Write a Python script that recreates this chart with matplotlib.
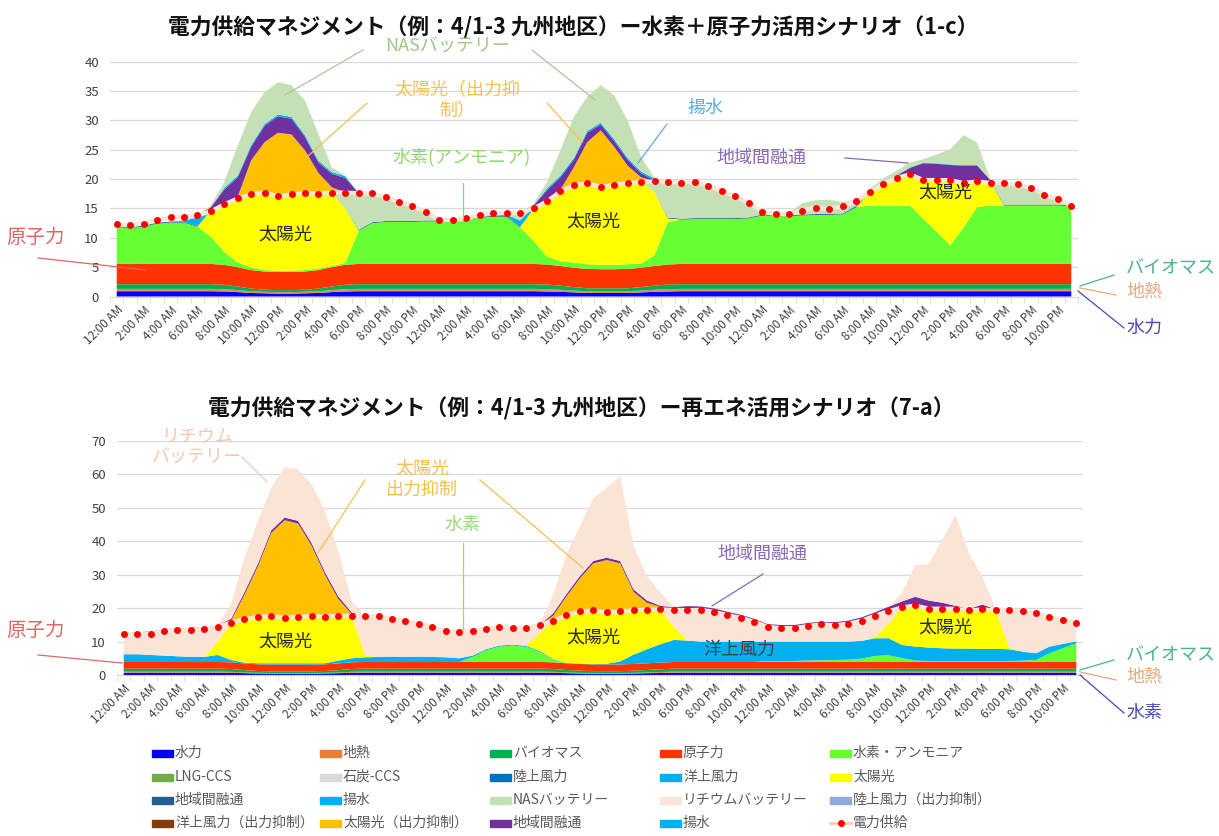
import numpy as np
import matplotlib
matplotlib.use("Agg")
import matplotlib.pyplot as plt
from matplotlib.lines import Line2D
from matplotlib.patches import Rectangle

plt.rcParams['font.family'] = ['Noto Sans CJK JP', 'DejaVu Sans']

W, H = 1219, 836

# ---------------------------------------------------------------- data
hour_labels = ["12:00 AM", "2:00 AM", "4:00 AM", "6:00 AM", "8:00 AM", "10:00 AM",
               "12:00 PM", "2:00 PM", "4:00 PM", "6:00 PM", "8:00 PM", "10:00 PM"]
tick_labels = hour_labels + hour_labels + hour_labels

# hourly power demand (GW), 4/1 00:00 - 4/3 23:00
supply = [
    12.3, 12.2, 12.4, 13.1, 13.5, 13.6, 13.8, 14.5, 15.7, 16.7, 17.4, 17.7,
    17.1, 17.4, 17.6, 17.5, 17.7, 17.7, 17.6, 17.55, 16.9, 16.15, 15.4, 14.35,
    13.1, 13.0, 13.3, 13.9, 14.3, 14.2, 14.2, 15.0, 16.2, 17.9, 19.0, 19.3,
    18.7, 19.0, 19.4, 19.5, 19.6, 19.5, 19.4, 19.5, 18.9, 17.9, 17.1, 15.9,
    14.4, 14.05, 14.05, 14.65, 15.15, 14.9, 15.35, 16.25, 17.75, 19.1, 20.2, 20.8,
    19.85, 19.85, 19.8, 19.35, 19.6, 19.35, 19.3, 19.1, 18.5, 17.35, 16.55, 15.5,
]

# ---- scenario 1-c (hydrogen + nuclear)
hydro_c = [
    0.9, 0.9, 0.9, 0.9, 0.9, 0.9, 0.9, 0.9, 0.85, 0.75, 0.6, 0.55,
    0.5, 0.5, 0.55, 0.6, 0.75, 0.85, 0.9, 0.9, 0.9, 0.9, 0.9, 0.9,
    0.9, 0.9, 0.9, 0.9, 0.9, 0.9, 0.9, 0.9, 0.85, 0.8, 0.7, 0.6,
    0.6, 0.6, 0.6, 0.7, 0.8, 0.85, 0.9, 0.9, 0.9, 0.9, 0.9, 0.9,
    0.9, 0.9, 0.9, 0.9, 0.9, 0.9, 0.9, 0.9, 0.9, 0.9, 0.9, 0.9,
    0.9, 0.9, 0.9, 0.9, 0.9, 0.9, 0.9, 0.9, 0.9, 0.9, 0.9, 0.9,
]
geo_c = [
    0.4, 0.4, 0.4, 0.4, 0.4, 0.4, 0.4, 0.4, 0.4, 0.35, 0.3, 0.25,
    0.25, 0.25, 0.25, 0.3, 0.35, 0.4, 0.4, 0.4, 0.4, 0.4, 0.4, 0.4,
    0.4, 0.4, 0.4, 0.4, 0.4, 0.4, 0.4, 0.4, 0.4, 0.35, 0.3, 0.3,
    0.3, 0.3, 0.3, 0.3, 0.35, 0.4, 0.4, 0.4, 0.4, 0.4, 0.4, 0.4,
    0.4, 0.4, 0.4, 0.4, 0.4, 0.4, 0.4, 0.4, 0.4, 0.4, 0.4, 0.4,
    0.4, 0.4, 0.4, 0.4, 0.4, 0.4, 0.4, 0.4, 0.4, 0.4, 0.4, 0.4,
]
bio_c = [
    0.8, 0.8, 0.8, 0.8, 0.8, 0.8, 0.8, 0.8, 0.75, 0.6, 0.45, 0.35,
    0.35, 0.35, 0.35, 0.45, 0.6, 0.75, 0.8, 0.8, 0.8, 0.8, 0.8, 0.8,
    0.8, 0.8, 0.8, 0.8, 0.8, 0.8, 0.8, 0.8, 0.8, 0.7, 0.6, 0.5,
    0.5, 0.5, 0.5, 0.6, 0.7, 0.8, 0.8, 0.8, 0.8, 0.8, 0.8, 0.8,
    0.8, 0.8, 0.8, 0.8, 0.8, 0.8, 0.8, 0.8, 0.8, 0.8, 0.8, 0.8,
    0.8, 0.8, 0.8, 0.8, 0.8, 0.8, 0.8, 0.8, 0.8, 0.8, 0.8, 0.8,
]
nuc_c = [
    3.45, 3.45, 3.45, 3.45, 3.45, 3.45, 3.45, 3.45, 3.4, 3.3, 3.15, 3.1,
    3.1, 3.1, 3.1, 3.15, 3.3, 3.4, 3.45, 3.45, 3.45, 3.45, 3.45, 3.45,
    3.45, 3.45, 3.45, 3.45, 3.45, 3.45, 3.45, 3.45, 3.4, 3.35, 3.3, 3.3,
    3.25, 3.25, 3.3, 3.3, 3.35, 3.4, 3.45, 3.45, 3.45, 3.45, 3.45, 3.45,
    3.45, 3.45, 3.45, 3.45, 3.45, 3.45, 3.45, 3.45, 3.45, 3.45, 3.45, 3.45,
    3.45, 3.45, 3.45, 3.45, 3.45, 3.45, 3.45, 3.45, 3.45, 3.45, 3.45, 3.45,
]
h2_c = [
    6.25, 6.15, 6.35, 6.85, 7.05, 7.05, 6.35, 4.65, 2.2, 0.8, 0.4, 0.25,
    0.2, 0.2, 0.25, 0.25, 0.2, 0.3, 5.65, 6.95, 7.15, 7.15, 7.15, 7.25,
    7.25, 7.25, 7.55, 7.85, 8.05, 8.05, 6.25, 3.95, 1.35, 0.8, 0.9, 0.8,
    0.75, 0.75, 0.8, 0.7, 1.8, 7.25, 7.55, 7.65, 7.65, 7.65, 7.65, 7.75,
    8.25, 8.15, 8.15, 8.25, 8.35, 8.35, 8.45, 9.65, 9.95, 9.95, 9.95, 9.95,
    7.65, 5.45, 3.15, 6.25, 9.65, 9.95, 9.95, 9.95, 9.95, 9.95, 9.95, 9.85,
]
solar_c = [
    0, 0, 0, 0, 0, 0, 0, 4.4, 8.1, 11.0, 12.6, 13.3,
    12.7, 13.1, 13.2, 12.8, 12.5, 9.3, 0, 0, 0, 0, 0, 0,
    0, 0, 0, 0, 0, 0, 0, 5.4, 9.5, 11.9, 13.1, 13.8,
    13.4, 13.6, 14.0, 14.0, 10.8, 0.6, 0, 0, 0, 0, 0, 0,
    0, 0, 0, 0, 0, 0, 0, 0, 2.3, 3.7, 4.7, 5.3,
    6.7, 8.9, 11.1, 7.7, 4.5, 4.0, 0, 0, 0, 0, 0, 0,
]
link_c = [
    0.15, 0.15, 0.15, 0.15, 0.15, 0.15, 0.15, 0, 0, 0, 0, 0,
    0, 0, 0, 0, 0, 0, 0.15, 0.15, 0.15, 0.15, 0.15, 0.15,
    0.15, 0.15, 0.15, 0.15, 0.15, 0.15, 0.15, 0, 0, 0, 0, 0,
    0, 0, 0, 0, 0, 0.15, 0.15, 0.15, 0.15, 0.15, 0.15, 0.15,
    0.15, 0.15, 0.15, 0.15, 0.15, 0.15, 0.15, 0.15, 0.1, 0.1, 0.1, 0.1,
    0.1, 0.1, 0.1, 0.1, 0.1, 0.1, 0.15, 0.15, 0.15, 0.15, 0.15, 0.15,
]
pump_c = [
    0, 0, 0, 0, 0, 0.2, 1.4, 0.3, 0, 0, 0, 0,
    0, 0, 0, 0, 0, 0, 0, 0, 0, 0, 0, 0,
    0, 0, 0, 0, 0, 0.2, 1.0, 0.3, 0, 0, 0, 0,
    0, 0, 0, 0, 0, 0, 0, 0, 0, 0, 0, 0,
    0, 0, 0, 0, 0, 0, 0, 0.2, 0, 0, 0, 0,
    0, 0, 0, 0, 0, 0, 0, 0, 0, 0, 0, 0,
]
nas_c = [
    0, 0, 0, 0, 0, 0, 0.35, 0, 0, 0, 0, 0,
    0, 0, 0, 0, 0, 2.7, 6.25, 4.9, 4.05, 3.3, 2.55, 1.4,
    0.15, 0.05, 0.05, 0.35, 0.55, 0.25, 1.25, 0, 0, 0, 0, 0,
    0, 0, 0, 0, 1.8, 6.05, 6.15, 6.15, 5.55, 4.55, 3.75, 2.45,
    0.45, 0.2, 0.2, 0.7, 1.1, 0.85, 1.2, 0.7, 0, 0, 0, 0,
    0, 0, 0, 0, 0, 0, 3.65, 3.45, 2.85, 1.7, 0.9, 0,
]
curt_c = [
    0, 0, 0, 0, 0, 0, 0, 0, 0, 0.2, 5.7, 8.5,
    10.8, 10.1, 7.2, 3.5, 0.9, 0, 0, 0, 0, 0, 0, 0,
    0, 0, 0, 0, 0, 0, 0, 0, 0, 0.3, 3.1, 7.0,
    9.5, 6.5, 2.8, 0.7, 0, 0, 0, 0, 0, 0, 0, 0,
    0, 0, 0, 0, 0, 0, 0, 0, 0, 0, 0, 0,
    0, 0, 0, 0, 0, 0, 0, 0, 0, 0, 0, 0,
]
inter_c = [
    0, 0, 0, 0, 0, 0, 0, 0.3, 2.5, 3.3, 2.3, 2.8,
    2.8, 2.7, 2.3, 1.8, 2.3, 2.5, 0, 0, 0, 0, 0, 0,
    0, 0, 0, 0, 0, 0, 0, 0.3, 1.8, 2.1, 1.3, 1.6,
    1.0, 1.0, 1.0, 0.7, 0.2, 0, 0, 0, 0, 0, 0, 0,
    0.3, 0.3, 0.2, 0, 0, 0, 0, 0, 0, 0, 0.3, 1.0,
    2.7, 2.6, 2.5, 2.7, 2.5, 0.2, 0, 0, 0, 0, 0, 0,
]
pump2_c = [
    0, 0, 0, 0, 0, 0, 0, 0, 0.3, 0.3, 0.3, 0.3,
    0.3, 0.3, 0.3, 0.3, 0.3, 0.3, 0, 0, 0, 0, 0, 0,
    0, 0, 0, 0, 0, 0, 0, 0, 0.3, 0.3, 0.3, 0.3,
    0.3, 0.3, 0.3, 0.3, 0.3, 0, 0, 0, 0, 0, 0, 0,
    0, 0, 0, 0, 0, 0, 0, 0, 0, 0, 0, 0.1,
    0.1, 0.1, 0.1, 0.1, 0.1, 0, 0, 0, 0, 0, 0, 0,
]
nas_chg_c = [
    0, 0, 0, 0, 0, 0, 0, 0.3, 1.0, 5.1, 5.6, 5.4,
    5.5, 5.4, 5.9, 4.6, 0.8, 0.1, 0, 0, 0, 0, 0, 0,
    0, 0, 0, 0, 0, 0, 0, 0.3, 1.1, 4.3, 7.0, 5.8,
    6.4, 7.5, 6.4, 2.5, 0.1, 0, 0, 0, 0, 0, 0, 0,
    0, 0, 0, 1.25, 1.25, 1.6, 0.75, 0.2, 0.4, 0.8, 0.8, 0.8,
    0.6, 1.5, 2.6, 5.1, 3.8, 0, 0, 0, 0, 0, 0, 0,
]

# ---- scenario 7-a (renewables)
hydro_a = [
    0.7, 0.7, 0.7, 0.7, 0.7, 0.7, 0.7, 0.7, 0.65, 0.55, 0.45, 0.4,
    0.4, 0.4, 0.4, 0.45, 0.55, 0.65, 0.7, 0.7, 0.7, 0.7, 0.7, 0.7,
    0.7, 0.7, 0.7, 0.7, 0.7, 0.7, 0.7, 0.7, 0.65, 0.55, 0.45, 0.4,
    0.4, 0.4, 0.45, 0.55, 0.6, 0.7, 0.7, 0.7, 0.7, 0.7, 0.7, 0.7,
    0.7, 0.7, 0.7, 0.7, 0.7, 0.7, 0.7, 0.7, 0.7, 0.7, 0.7, 0.7,
    0.7, 0.7, 0.7, 0.7, 0.7, 0.7, 0.7, 0.7, 0.7, 0.7, 0.7, 0.7,
]
geo_a = [
    0.3, 0.3, 0.3, 0.3, 0.3, 0.3, 0.3, 0.3, 0.3, 0.2, 0.2, 0.2,
    0.2, 0.2, 0.2, 0.2, 0.2, 0.3, 0.3, 0.3, 0.3, 0.3, 0.3, 0.3,
    0.3, 0.3, 0.3, 0.3, 0.3, 0.3, 0.3, 0.3, 0.3, 0.2, 0.2, 0.2,
    0.2, 0.2, 0.2, 0.2, 0.3, 0.3, 0.3, 0.3, 0.3, 0.3, 0.3, 0.3,
    0.3, 0.3, 0.3, 0.3, 0.3, 0.3, 0.3, 0.3, 0.3, 0.3, 0.3, 0.3,
    0.3, 0.3, 0.3, 0.3, 0.3, 0.3, 0.3, 0.3, 0.3, 0.3, 0.3, 0.3,
]
bio_a = [
    0.9, 0.9, 0.9, 0.9, 0.9, 0.9, 0.9, 0.9, 0.85, 0.7, 0.55, 0.5,
    0.5, 0.5, 0.5, 0.55, 0.7, 0.85, 0.9, 0.9, 0.9, 0.9, 0.9, 0.9,
    0.9, 0.9, 0.9, 0.9, 0.9, 0.9, 0.9, 0.9, 0.85, 0.75, 0.65, 0.55,
    0.55, 0.55, 0.65, 0.75, 0.8, 0.9, 0.9, 0.9, 0.9, 0.9, 0.9, 0.9,
    0.9, 0.9, 0.9, 0.9, 0.9, 0.9, 0.9, 0.9, 0.9, 0.9, 0.9, 0.9,
    0.9, 0.9, 0.9, 0.9, 0.9, 0.9, 0.9, 0.9, 0.9, 0.9, 0.9, 0.9,
]
nuc_a = [
    2.0, 2.0, 2.0, 2.0, 2.0, 2.0, 2.0, 2.0, 2.0, 2.0, 2.0, 2.0,
    2.0, 2.0, 2.0, 2.0, 2.0, 2.0, 2.0, 2.0, 2.0, 2.0, 2.0, 2.0,
    2.0, 2.0, 2.0, 2.0, 2.0, 2.0, 2.0, 2.0, 2.0, 2.0, 2.0, 2.0,
    2.0, 2.0, 2.0, 2.0, 2.0, 2.0, 2.0, 2.0, 2.0, 2.0, 2.0, 2.0,
    2.0, 2.0, 2.0, 2.0, 2.0, 2.0, 2.0, 2.0, 2.0, 2.0, 2.0, 2.0,
    2.0, 2.0, 2.0, 2.0, 2.0, 2.0, 2.0, 2.0, 2.0, 2.0, 2.0, 2.0,
]
h2_a = [
    0, 0, 0, 0, 0, 0, 0, 0, 0, 0, 0, 0,
    0, 0, 0, 0, 0, 0, 0, 0, 0, 0, 0, 0,
    0, 0, 1.5, 3.5, 4.6, 4.9, 4.5, 3.0, 0.8, 0, 0, 0,
    0, 0, 0, 0, 0, 0, 0, 0, 0, 0, 0, 0,
    0.3, 0.3, 0.3, 0.4, 0.5, 0.6, 0.7, 1.0, 1.8, 2.0, 1.2, 0.4,
    0.3, 0.3, 0.3, 0.3, 0.3, 0.3, 0.3, 0.4, 0.6, 2.6, 4.1, 5.6,
]
offshore_a = [
    2.3, 2.3, 2.1, 1.9, 1.7, 1.5, 1.5, 2.1, 0.7, 0.25, 0.3, 0.4,
    0.4, 0.4, 0.4, 0.3, 0.85, 1.2, 1.4, 1.5, 1.6, 1.5, 1.6, 1.5,
    1.4, 1.1, 0.4, 0.3, 0.3, 0.3, 0.3, 0.3, 0.2, 0.1, 0.1, 0.1,
    0.2, 0.9, 2.8, 4.2, 5.5, 6.6, 6.4, 6.1, 6.1, 6.1, 6.1, 6.1,
    5.8, 5.8, 5.8, 5.7, 5.6, 5.5, 5.4, 5.3, 5.3, 5.1, 3.9, 4.2,
    4.0, 3.8, 3.7, 3.7, 3.6, 3.6, 3.5, 2.7, 2.0, 2.0, 1.3, 0.55,
]
solar_a = [
    0, 0, 0, 0, 0, 0, 0, 4.0, 11.0, 13.0, 13.9, 14.2,
    13.6, 13.9, 14.1, 14.0, 13.4, 12.7, 0.5, 0, 0, 0, 0, 0,
    0, 0, 0, 0, 0, 0, 0, 5.3, 11.4, 14.3, 15.6, 16.05,
    15.35, 14.95, 13.3, 11.8, 10.4, 4.0, 0, 0, 0, 0, 0, 0,
    0, 0, 0, 0, 0, 0, 0, 0, 0.3, 4.5, 11.2, 12.3,
    11.65, 11.85, 11.9, 11.45, 11.8, 11.55, 0.5, 0, 0, 0, 0, 0,
]
li_a = [
    6.1, 6.0, 6.4, 7.3, 7.9, 8.2, 8.4, 4.5, 0.2, 0, 0, 0,
    0, 0, 0, 0, 0, 0, 11.8, 12.15, 11.4, 10.75, 9.9, 8.95,
    7.8, 8.0, 7.5, 6.2, 5.5, 5.1, 5.5, 2.5, 0, 0, 0, 0,
    0, 0, 0, 0, 0, 5.0, 9.1, 9.5, 8.9, 7.9, 7.1, 5.9,
    4.4, 4.05, 4.05, 4.65, 5.15, 4.9, 5.35, 6.05, 6.45, 3.6, 0, 0,
    0, 0, 0, 0, 0, 0, 11.1, 12.1, 12.0, 8.85, 7.25, 5.45,
]
curt_a = [
    0, 0, 0, 0, 0, 0, 0, 0, 0.5, 7.3, 15.1, 24.8,
    29.2, 27.9, 21.1, 12.5, 5.0, 0.5, 0, 0, 0, 0, 0, 0,
    0, 0, 0, 0, 0, 0, 0, 0, 1.5, 5.6, 9.9, 14.1,
    15.7, 14.4, 5.5, 2.1, 0.8, 0, 0, 0, 0, 0, 0, 0,
    0, 0, 0, 0, 0, 0, 0, 0, 0, 0, 0, 0,
    0, 0, 0, 0, 0, 0, 0, 0, 0, 0, 0, 0,
]
inter_a = [
    0.6, 0.6, 0.6, 0.5, 0.5, 0.5, 0.5, 0.5, 0.6, 0.8, 0.8, 0.8,
    0.8, 0.8, 0.8, 0.8, 0.8, 0.5, 0, 0, 0, 0, 0, 0,
    0, 0, 0, 0, 0, 0, 0, 0, 0.7, 0.7, 0.7, 0.7,
    0.7, 0.7, 0.7, 0.7, 0.3, 0.8, 1.2, 1.0, 1.0, 1.0, 0.9, 0.9,
    0.8, 0.9, 0.9, 0.9, 0.8, 0.9, 0.9, 1.0, 1.0, 1.3, 1.8, 2.6,
    2.4, 1.8, 0.9, 0.4, 1.5, 0.3, 0, 0, 0, 0, 0, 0,
]
li_chg_a = [
    0, 0, 0, 0, 0, 0, 0, 0, 4.4, 10.2, 12.7, 12.7,
    15.2, 15.4, 17.5, 18.2, 13.5, 3.3, 0, 0, 0, 0, 0, 0,
    0, 0, 0, 0, 0, 0, 0, 0, 5.6, 11.8, 14.9, 18.7,
    20.9, 25.4, 12.9, 7.2, 3.9, 0.2, 0, 0, 0, 0, 0, 0,
    0, 0, 0, 0, 0, 0, 0, 0, 0, 0, 2.4, 9.5,
    10.95, 18.75, 27.2, 16.65, 8.3, 0, 0, 0, 0, 0, 0, 0,
]

legend_labels = ['水力', '地熱', 'バイオマス', '原子力', '水素・アンモニア',
                 'LNG-CCS', '石炭-CCS', '陸上風力', '洋上風力', '太陽光',
                 '地域間融通', '揚水', 'NASバッテリー', 'リチウムバッテリー', '陸上風力（出力抑制）',
                 '洋上風力（出力抑制）', '太陽光（出力抑制）', '地域間融通', '揚水', '電力供給']
legend_colors = ['#0000FF', '#ED7D31', '#00B050', '#FF3300', '#66FF33',
                 '#70AD47', '#D9D9D9', '#0070C0', '#00B0F0', '#FFFF00',
                 '#255E91', '#00B0F0', '#C5E0B4', '#FBE5D6', '#8FAADC',
                 '#843C0C', '#FFC000', '#7030A0', '#00B0F0', None]

C = dict(hydro='#0000FF', geo='#E08A55', bio='#00B050', nuc='#FF3300', h2='#66FF33',
         offshore='#00B0F0', solar='#FFFF00', link='#255E91', pump='#00B0F0',
         nas='#C5E0B4', li='#FBE3D5', curt='#FFC000', inter='#7030A0')
SUPPLY_LINE = '#FCE4D6'

x = np.arange(len(supply))

# ---------------------------------------------------------------- figure
fig = plt.figure(figsize=(W / 100, H / 100), dpi=100)
fig.patch.set_facecolor('white')


def fx(p):
    return p / W


def fy(p):
    return 1 - p / H


def draw_chart(ax, layers, ymax, ystep):
    ax.stackplot(x, *[v for v, _ in layers], colors=[c for _, c in layers], linewidth=0)
    ax.plot(x, supply, color=SUPPLY_LINE, lw=3, zorder=4, solid_capstyle='round')
    ax.plot(x, supply, ls='none', marker='o', ms=5, mfc='#FF0000', mec='#FF0000', mew=0, zorder=5)
    ax.set_xlim(-0.5, 71.5)
    ax.set_ylim(0, ymax)
    ax.set_yticks(np.arange(0, ymax + 1, ystep))
    ax.yaxis.grid(True, color='#D9D9D9', lw=0.9)
    ax.set_axisbelow(True)
    for s in ['left', 'right', 'top']:
        ax.spines[s].set_visible(False)
    ax.spines['bottom'].set_color('#D9D9D9')
    ax.set_xticks(np.arange(0, 72, 2))
    ax.set_xticklabels(tick_labels, rotation=45, ha='right', rotation_mode='anchor',
                       fontsize=8.5, color='#404040')
    ax.set_xticks(np.arange(-0.5, 72, 1), minor=True)
    ax.tick_params(axis='x', which='major', length=0, pad=5)
    ax.tick_params(axis='x', which='minor', length=4, color='#D9D9D9')
    ax.tick_params(axis='y', length=0, pad=8, labelsize=9.5, labelcolor='#404040')


def label(xp, yp, s, color, size=13, **kw):
    fig.text(fx(xp), fy(yp), s, color=color, fontsize=size, ha=kw.pop('ha', 'center'),
             va=kw.pop('va', 'center'), **kw)


def leader(x0, y0, x1, y1, color, lw=0.9):
    fig.add_artist(Line2D([fx(x0), fx(x1)], [fy(y0), fy(y1)], color=color, lw=lw))


# ---- top chart: scenario 1-c
ax1 = fig.add_axes([fx(110), fy(296.5), (1078 - 110) / W, (296.5 - 61.7) / H])
draw_chart(ax1, [
    (hydro_c, C['hydro']), (geo_c, C['geo']), (bio_c, C['bio']), (nuc_c, C['nuc']),
    (h2_c, C['h2']), (solar_c, C['solar']), (link_c, C['link']), (pump_c, C['pump']),
    (nas_c, C['nas']), (curt_c, C['curt']), (inter_c, C['inter']), (pump2_c, C['pump']),
    (nas_chg_c, C['nas']),
], 40, 5)

# ---- bottom chart: scenario 7-a
ax2 = fig.add_axes([fx(117), fy(675), 966 / W, 234 / H])
draw_chart(ax2, [
    (hydro_a, C['hydro']), (geo_a, C['geo']), (bio_a, C['bio']), (nuc_a, C['nuc']),
    (h2_a, C['h2']), (offshore_a, C['offshore']), (solar_a, C['solar']),
    (li_a, C['li']), (curt_a, C['curt']), (inter_a, C['inter']), (li_chg_a, C['li']),
], 70, 10)

# ---- titles
fig.text(fx(573), fy(28), '電力供給マネジメント（例：4/1-3 九州地区）ー水素＋原子力活用シナリオ（1-c）',
         ha='center', va='center', fontsize=15.7, fontweight='bold', color='#111111')
fig.text(fx(581), fy(409), '電力供給マネジメント（例：4/1-3 九州地区）ー再エネ活用シナリオ（7-a）',
         ha='center', va='center', fontsize=15.7, fontweight='bold', color='#111111')

# ---- callouts, top chart
label(448, 47, 'NASバッテリー', '#9CC785')
leader(363, 50, 285, 95, '#A9C99A')
leader(532, 50, 595, 100, '#A9C99A')
label(457, 101, '太陽光（出力抑\n制）', '#F2C24F', linespacing=1.25)
leader(367, 103, 308, 156, '#F2C24F')
leader(547, 103, 582, 142, '#F2C24F')
label(462, 157, '水素(アンモニア)', '#8FD96B')
leader(463, 183, 463, 218, '#8FD96B')
label(706, 108, '揚水', '#5AAFD6')
leader(667, 124, 638, 163, '#5AAFD6')
label(761, 158, '地域間融通', '#8A68B4')
leader(845, 158, 908, 163, '#8A68B4')
for xp, yp in [(285, 235), (593, 222), (945, 193)]:
    label(xp, yp, '太陽光', '#262626')
label(36, 237, '原子力', '#E06666', size=14)
leader(38, 258, 146, 270, '#E06666')
label(1126, 268, 'バイオマス', '#4DB48A', ha='left')
label(1126, 292, '地熱', '#E8A87C', ha='left')
label(1126, 328, '水力', '#4A4AAE', ha='left')
leader(1114, 275, 1080, 286, '#4DB48A')
leader(1116, 295, 1080, 288, '#E8A87C')
leader(1124, 328, 1078, 291, '#4A4AAE')

# ---- callouts, bottom chart
label(197, 447, 'リチウム\nバッテリー', '#F3C9B1', linespacing=1.2)
leader(242, 457, 267, 482, '#F3C9B1')
label(422, 479, '太陽光\n出力抑制', '#F2C24F', linespacing=1.2)
leader(365, 480, 318, 553, '#F2C24F')
leader(480, 480, 583, 568, '#F2C24F')
label(462, 525, '水素', '#9BD97C')
leader(463, 543, 463, 630, '#9BD97C')
label(762, 554, '地域間融通', '#8A68B4')
leader(763, 574, 712, 606, '#8A68B4')
label(739, 650, '洋上風力', '#404040')
for xp, yp in [(285, 642), (593, 638), (945, 628)]:
    label(xp, yp, '太陽光', '#262626')
label(36, 630, '原子力', '#E06666', size=14)
leader(38, 655, 122, 663, '#E06666')
label(1126, 655, 'バイオマス', '#4DB48A', ha='left')
label(1126, 677, '地熱', '#E8A87C', ha='left')
label(1126, 713, '水素', '#4A4AAE', ha='left')
leader(1114, 660, 1080, 670, '#4DB48A')
leader(1116, 680, 1080, 672, '#E8A87C')
leader(1124, 713, 1080, 675, '#4A4AAE')

# ---- legend (5 columns x 4 rows)
col_x = [152, 320, 490, 660, 830]
row_y = [753, 777, 800, 823]
for i, (lab, col) in enumerate(zip(legend_labels, legend_colors)):
    r, c = divmod(i, 5)
    x0, y0 = col_x[c], row_y[r]
    if col is None:
        fig.add_artist(Line2D([fx(x0), fx(x0 + 21)], [fy(y0), fy(y0)], color='#F8CBAD', lw=2))
        fig.add_artist(Line2D([fx(x0 + 10.5)], [fy(y0)], ls='none', marker='o', ms=4,
                              mfc='#FF0000', mec='#FF0000'))
    else:
        fig.add_artist(Rectangle((fx(x0), fy(y0 + 3.5)), 21 / W, 7 / H, color=col,
                                 transform=fig.transFigure))
    fig.text(fx(x0 + 23), fy(y0), lab, fontsize=10, color='#595959', ha='left', va='center')

fig.savefig('out.png', dpi=100)
